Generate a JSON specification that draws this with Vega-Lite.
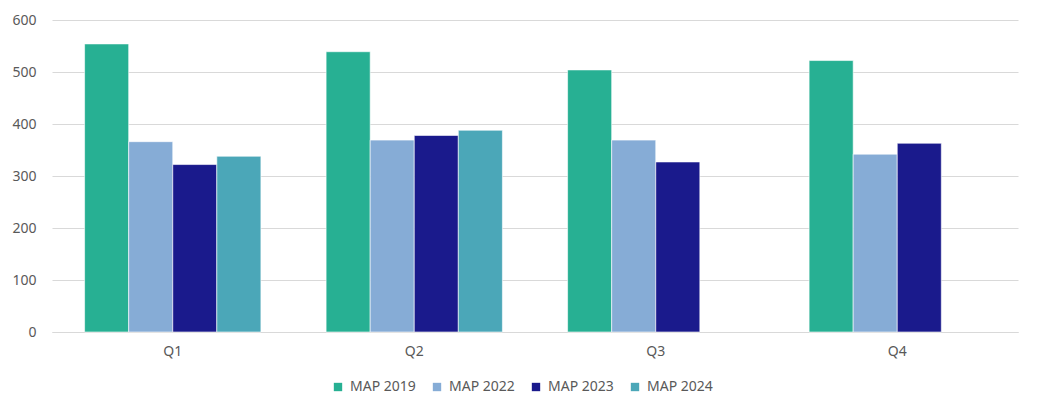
{
  "$schema": "https://vega.github.io/schema/vega-lite/v6.json",
  "autosize": {"type": "none"},
  "width": 966,
  "height": 312,
  "padding": {"left": 52, "top": 20, "right": 20, "bottom": 83},
  "background": "white",
  "data": {
    "values": [
      {"q": "Q1", "series": "MAP 2019", "v": 554},
      {"q": "Q1", "series": "MAP 2022", "v": 366},
      {"q": "Q1", "series": "MAP 2023", "v": 322},
      {"q": "Q1", "series": "MAP 2024", "v": 338},
      {"q": "Q2", "series": "MAP 2019", "v": 539},
      {"q": "Q2", "series": "MAP 2022", "v": 369},
      {"q": "Q2", "series": "MAP 2023", "v": 378},
      {"q": "Q2", "series": "MAP 2024", "v": 388},
      {"q": "Q3", "series": "MAP 2019", "v": 504},
      {"q": "Q3", "series": "MAP 2022", "v": 369},
      {"q": "Q3", "series": "MAP 2023", "v": 327},
      {"q": "Q4", "series": "MAP 2019", "v": 522},
      {"q": "Q4", "series": "MAP 2022", "v": 342},
      {"q": "Q4", "series": "MAP 2023", "v": 363}
    ]
  },
  "mark": {"type": "bar", "stroke": "white", "strokeWidth": 0.6},
  "encoding": {
    "x": {
      "field": "q", "type": "nominal", "title": null,
      "scale": {"paddingInner": 0.27, "paddingOuter": 0.135},
      "axis": {"labelAngle": 0, "ticks": false, "domain": true, "domainColor": "#D9D9D9", "labelPadding": 12, "grid": false}
    },
    "xOffset": {"field": "series", "type": "nominal", "scale": {"domain": ["MAP 2019", "MAP 2022", "MAP 2023", "MAP 2024"]}},
    "y": {
      "field": "v", "type": "quantitative", "title": null,
      "scale": {"domain": [0, 600], "nice": false},
      "axis": {"values": [0, 100, 200, 300, 400, 500, 600], "ticks": false, "domain": false, "gridColor": "#D9D9D9", "labelPadding": 16}
    },
    "color": {
      "field": "series", "type": "nominal",
      "scale": {"domain": ["MAP 2019", "MAP 2022", "MAP 2023", "MAP 2024"], "range": ["#27B093", "#86ACD6", "#1A1A8C", "#4BA7B8"]},
      "legend": {
        "title": null, "orient": "none", "legendX": 279, "legendY": 360, "direction": "horizontal", "columns": 4,
        "symbolType": "square", "symbolSize": 70, "symbolStrokeWidth": 0,
        "labelOffset": 5, "columnPadding": 14
      }
    }
  },
  "config": {
    "view": {"stroke": null},
    "font": "Noto Sans",
    "axis": {"labelFont": "Noto Sans", "labelFontSize": 14, "labelColor": "#595959"},
    "legend": {"labelFont": "Noto Sans", "labelFontSize": 14, "labelColor": "#595959"}
  }
}
